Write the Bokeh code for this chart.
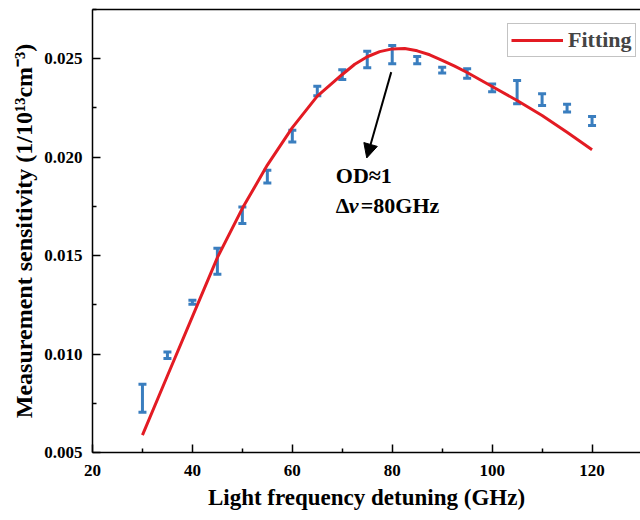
from bokeh.plotting import figure
from bokeh.models import (ColumnDataSource, Whisker, TeeHead, FixedTicker, PrintfTickFormatter,
                          Legend, LegendItem, Arrow, NormalHead, LinearAxis, Label)
from bokeh.embed import file_html
from bokeh.resources import INLINE

# ---- data ----
detuning = [30, 35, 40, 45, 50, 55, 60, 65, 70, 75, 80, 85, 90, 95, 100, 105, 110, 115, 120]
sensitivity = [0.00776, 0.00994, 0.01263, 0.01471, 0.01705, 0.01901, 0.02107, 0.02336, 0.02419,
               0.02496, 0.02521, 0.02493, 0.02442, 0.02425, 0.02352, 0.02330, 0.02292, 0.02249, 0.02184]
error = [0.00071, 0.00017, 0.00010, 0.00066, 0.00042, 0.00032, 0.00030, 0.00024, 0.00025,
         0.00042, 0.00046, 0.00018, 0.00015, 0.00024, 0.00020, 0.00059, 0.00030, 0.00020, 0.00023]

fit_x = [30, 35, 40, 45, 50, 55, 60, 65, 70, 72.5, 75, 77.5, 80, 82.5, 85, 87.5, 90, 92.5,
         95, 100, 105, 110, 115, 120]
fit_y = [0.00588, 0.00890, 0.01190, 0.01490, 0.01740, 0.01960, 0.02150, 0.02310, 0.02420,
         0.02472, 0.02510, 0.02536, 0.02550, 0.02552, 0.02540, 0.02520, 0.02492, 0.02462,
         0.02430, 0.02359, 0.02288, 0.02212, 0.02127, 0.02038]

x_ticks = [20, 40, 60, 80, 100, 120]
x_minor = [30, 50, 70, 90, 110, 130]
y_ticks = [0.005, 0.010, 0.015, 0.020, 0.025]
y_minor = [0.0075, 0.0125, 0.0175, 0.0225, 0.0275]

FONT = "Liberation Serif"
BLUE = "#3a7ebf"
RED = "#e31b23"

p = figure(width=640, height=520, output_backend="svg", toolbar_location=None,
           x_range=(20, 129.7), y_range=(0.005, 0.0275),
           min_border_left=92, min_border_right=0, min_border_top=9, min_border_bottom=68)
p.background_fill_color = "white"
p.border_fill_color = "white"
p.outline_line_color = None
p.xgrid.grid_line_color = None
p.ygrid.grid_line_color = None

# fit line
fit_src = ColumnDataSource(dict(x=fit_x, y=fit_y))
r_fit = p.line("x", "y", source=fit_src, line_color=RED, line_width=3, line_join="round")

# error bars
lower = [s - e for s, e in zip(sensitivity, error)]
upper = [s + e for s, e in zip(sensitivity, error)]
err_src = ColumnDataSource(dict(x=detuning, lower=lower, upper=upper))
w = Whisker(source=err_src, base="x", lower="lower", upper="upper",
            line_color=BLUE, line_width=3,
            upper_head=TeeHead(size=8, line_color=BLUE, line_width=3),
            lower_head=TeeHead(size=8, line_color=BLUE, line_width=3))
p.add_layout(w)

# axes
for ax in (p.xaxis[0], p.yaxis[0]):
    ax.axis_line_width = 1.5
    ax.axis_line_color = "black"
    ax.major_tick_line_width = 1.5
    ax.minor_tick_line_width = 1.5
    ax.major_tick_in = 8
    ax.major_tick_out = 0
    ax.minor_tick_in = 4
    ax.minor_tick_out = 0
    ax.major_label_text_font = FONT
    ax.major_label_text_font_style = "bold"
    ax.major_label_text_font_size = "17px"
    ax.major_label_text_color = "black"
    ax.axis_label_text_font = FONT
    ax.axis_label_text_font_style = "bold"
    ax.axis_label_text_color = "black"

p.xaxis.axis_label_text_font_size = "23px"
p.yaxis.axis_label_text_font_size = "24px"
p.xaxis.ticker = FixedTicker(ticks=x_ticks, minor_ticks=x_minor)
p.yaxis.ticker = FixedTicker(ticks=y_ticks, minor_ticks=y_minor)
p.yaxis.formatter = PrintfTickFormatter(format="%.3f")
p.xaxis.major_label_standoff = 12
p.yaxis.major_label_standoff = 10
p.xaxis.axis_label = "Light frequency detuning (GHz)"
p.yaxis.axis_label = "Measurement sensitivity (1/10\u00b9\u00b3cm\u207b\u00b3)"
p.xaxis.axis_label_standoff = 6
p.yaxis.axis_label_standoff = 4

# top frame line
top = LinearAxis(axis_line_width=1.5, axis_line_color="black",
                 major_tick_line_color=None, minor_tick_line_color=None,
                 major_label_text_font_size="0px", major_label_standoff=0,
                 ticker=FixedTicker(ticks=[]))
p.add_layout(top, "above")

# annotation arrow and text
p.add_layout(Arrow(end=NormalHead(size=14, fill_color="black", line_color="black"),
                   x_start=79.8, y_start=0.02432, x_end=74.9, y_end=0.01996,
                   line_color="black", line_width=2))
p.add_layout(Label(x=68.7, y=0.01908, text="OD\u22481", text_font=FONT, text_font_style="bold",
                   text_font_size="22px", text_baseline="middle", text_color="black"))
p.add_layout(Label(x=68.7, y=0.01755, text="\u0394", text_font=FONT, text_font_style="bold",
                   text_font_size="22px", text_baseline="middle", text_color="black"))
p.add_layout(Label(x=68.7, y=0.01755, x_offset=13, text="\u03bd", text_font=FONT,
                   text_font_style="bold italic", text_font_size="22px", text_baseline="middle",
                   text_color="black"))
p.add_layout(Label(x=68.7, y=0.01755, x_offset=25, text="=80GHz", text_font=FONT,
                   text_font_style="bold", text_font_size="22px", text_baseline="middle",
                   text_color="black"))

legend = Legend(items=[LegendItem(label="Fitting", renderers=[r_fit])],
                location=(415, 395), padding=3, margin=0, glyph_width=52, glyph_height=26,
                label_height=26, label_standoff=5, label_text_font=FONT,
                label_text_font_style="bold", label_text_font_size="22px",
                border_line_color="#888888", border_line_width=1, background_fill_alpha=1)
p.add_layout(legend)

open("out.html", "w").write(file_html(p, INLINE))
